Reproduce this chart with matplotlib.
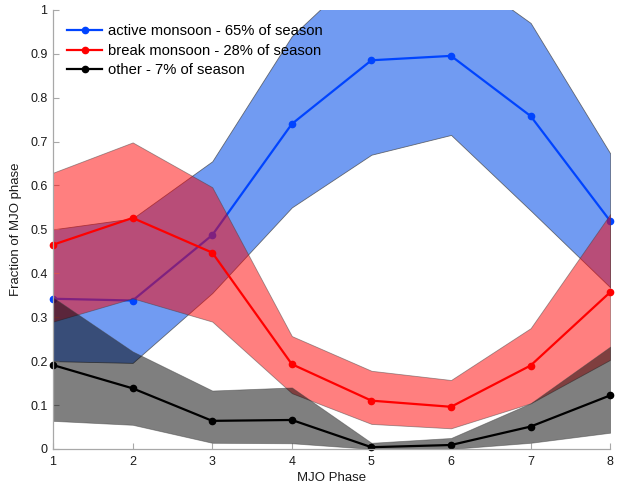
import matplotlib
matplotlib.use("Agg")
import matplotlib.pyplot as plt
from matplotlib.lines import Line2D

plt.rcParams['font.family'] = ['Liberation Sans', 'DejaVu Sans']

phase = [1, 2, 3, 4, 5, 6, 7, 8]

active_mean = [0.342, 0.338, 0.487, 0.740, 0.885, 0.895, 0.758, 0.519]
active_upper = [0.500, 0.525, 0.655, 0.940, 1.110, 1.100, 0.970, 0.673]
active_lower = [0.200, 0.196, 0.355, 0.550, 0.670, 0.715, 0.543, 0.368]

break_mean = [0.465, 0.526, 0.447, 0.193, 0.110, 0.096, 0.190, 0.357]
break_upper = [0.629, 0.698, 0.596, 0.257, 0.178, 0.157, 0.275, 0.535]
break_lower = [0.290, 0.343, 0.290, 0.127, 0.057, 0.047, 0.104, 0.203]

other_mean = [0.191, 0.138, 0.064, 0.066, 0.004, 0.009, 0.051, 0.122]
other_upper = [0.345, 0.222, 0.133, 0.140, 0.014, 0.025, 0.104, 0.233]
other_lower = [0.064, 0.055, 0.014, 0.013, 0.000, 0.000, 0.014, 0.037]

labels = ["active monsoon - 65% of season",
          "break monsoon - 28% of season",
          "other - 7% of season"]

fig = plt.figure(figsize=(6.17, 4.88), dpi=100)
ax = fig.add_axes([0.086, 0.080, 0.903, 0.900])

series = [
    (active_mean, active_lower, active_upper, '#0044ff', '#3a75ee', 0.72),
    (break_mean, break_lower, break_upper, '#ff0000', '#ff0000', 0.5),
    (other_mean, other_lower, other_upper, '#000000', '#000000', 0.5),
]

z = 1
for mean, lo, hi, lc, fc, a in series:
    ax.fill_between(phase, lo, hi, facecolor=fc, alpha=a,
                    edgecolor='#404040', linewidth=0.6, zorder=z)
    ax.plot(phase, mean, color=lc, lw=1.6, marker='o', ms=4.5,
            zorder=z + 1, clip_on=False)
    z += 2

ax.set_xlim(1, 8)
ax.set_ylim(0, 1)
ax.set_xticks(phase)
ax.set_yticks([0, 0.1, 0.2, 0.3, 0.4, 0.5, 0.6, 0.7, 0.8, 0.9, 1])
ax.set_yticklabels(['0', '0.1', '0.2', '0.3', '0.4', '0.5', '0.6',
                    '0.7', '0.8', '0.9', '1'])

for s in ['top', 'right']:
    ax.spines[s].set_visible(False)
for s in ['left', 'bottom']:
    ax.spines[s].set_color('#a8a8a8')
    ax.spines[s].set_linewidth(0.9)
    ax.spines[s].set_zorder(10)
ax.tick_params(direction='in', length=4, width=0.8, color='#a8a8a8',
               labelsize=9, labelcolor='#1a1a1a')
ax.tick_params(axis='x', pad=5)
ax.tick_params(axis='y', pad=4)

ax.set_xlabel('MJO Phase', fontsize=9.5, color='#1a1a1a', labelpad=3)
ax.set_ylabel('Fraction of MJO phase', fontsize=9.5, color='#1a1a1a',
              labelpad=6)

handles = [Line2D([], [], color=c, lw=1.6, marker='o', ms=4.5)
           for c in ['#0044ff', '#ff0000', '#000000']]
leg = ax.legend(handles, labels, loc='upper left',
                bbox_to_anchor=(0.025, 0.967), frameon=False,
                fontsize=10.6, handlelength=2.4, handletextpad=0.4,
                labelspacing=0.38, borderpad=0, borderaxespad=0,
                numpoints=1)
leg.set_zorder(20)

fig.savefig('out.png', dpi=100)
